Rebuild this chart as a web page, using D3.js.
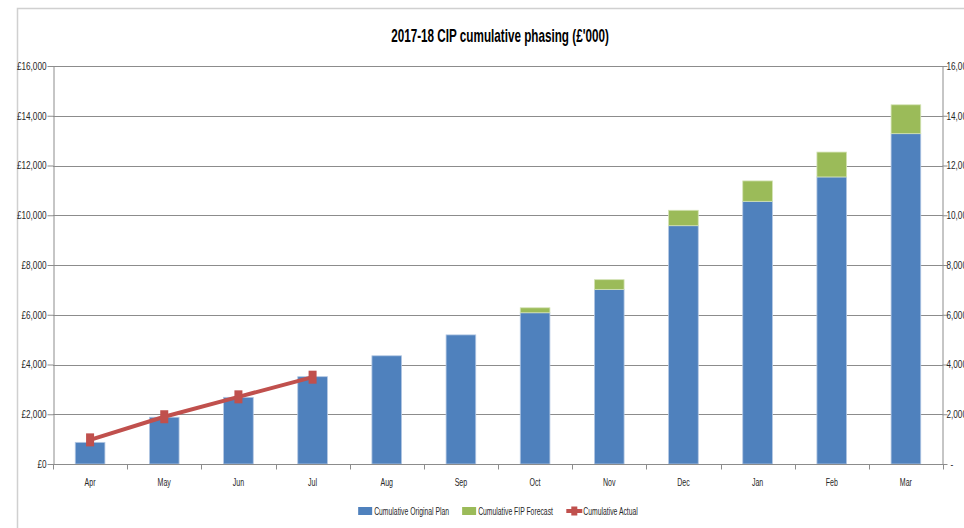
<!DOCTYPE html>
<html>
<head>
<meta charset="utf-8">
<script src="https://cdn.jsdelivr.net/npm/d3@7/dist/d3.min.js"></script>
<style>
  html, body { margin: 0; padding: 0; background: #fff; }
  svg { display: block; }
  text { font-family: "Liberation Sans", Arial, sans-serif; }
</style>
</head>
<body>
<svg id="chart" width="964" height="528"></svg>
<script>
// Months of the 2017-18 financial year
const months = ["Apr", "May", "Jun", "Jul", "Aug", "Sep", "Oct", "Nov", "Dec", "Jan", "Feb", "Mar"];
// Cumulative original plan (£'000)
const originalPlan = [870, 1880, 2680, 3510, 4350, 5190, 6080, 7020, 9580, 10560, 11540, 13280];
// Additional forecast on top of the plan (£'000)
const fipForecast = [0, 0, 0, 0, 0, 0, 200, 390, 620, 820, 1000, 1160];
// Cumulative actual spend to date (£'000)
const actualMonths = ["Apr", "May", "Jun", "Jul"];
const cumulativeActual = [970, 1900, 2700, 3490];
// Axis ticks
const yTicks = [0, 2000, 4000, 6000, 8000, 10000, 12000, 14000, 16000];
const seriesNames = ["Cumulative Original Plan", "Cumulative FIP Forecast", "Cumulative Actual"];

const colors = { plan: "#4f81bd", forecast: "#9bbb59", actual: "#c0504d" };

const svg = d3.select("#chart");
const W = 964, H = 528;
const plot = { left: 53, right: 943, top: 66, bottom: 464 };

// Condense a text run horizontally (narrow chart font look)
function squeeze(sel, k) {
  sel.each(function () {
    const el = d3.select(this);
    const x0 = +el.attr("x") || 0;
    el.attr("x", x0 / k).attr("transform", `scale(${k},1)`);
  });
}

// Chart frame
svg.append("path")
  .attr("d", `M17.5,${H + 2} V8.5 H${W + 2}`)
  .attr("fill", "none")
  .attr("stroke", "#d0d0d0")
  .attr("stroke-width", 1.5);

// Title
svg.append("text")
  .attr("x", 500).attr("y", 42)
  .attr("text-anchor", "middle")
  .attr("font-size", 18).attr("font-weight", "bold")
  .attr("fill", "#000")
  .text("2017-18 CIP cumulative phasing (£'000)")
  .call(squeeze, 0.65);

const x = d3.scaleBand()
  .domain(months)
  .range([plot.left, plot.right])
  .paddingInner(0.6)
  .paddingOuter(0.3);

const y = d3.scaleLinear()
  .domain([0, 16000])
  .range([plot.bottom, plot.top]);

// Gridlines
svg.append("g")
  .selectAll("line")
  .data(yTicks.filter(d => d > 0))
  .join("line")
  .attr("x1", plot.left).attr("x2", plot.right)
  .attr("y1", d => Math.round(y(d)) + 0.5).attr("y2", d => Math.round(y(d)) + 0.5)
  .attr("stroke", "#8c8c8c").attr("stroke-width", 1);

// Left axis (£)
const leftAxis = svg.append("g")
  .attr("transform", `translate(${plot.left + 0.5},0)`)
  .call(d3.axisLeft(y).tickValues(yTicks).tickSize(6).tickSizeOuter(0)
    .tickFormat(d => "£" + d3.format(",")(d)));
leftAxis.select(".domain").attr("stroke", "#8c8c8c");
leftAxis.selectAll(".tick line").attr("stroke", "#8c8c8c");
leftAxis.selectAll(".tick text")
  .attr("font-size", 10.5).attr("fill", "#262626").attr("x", -7)
  .attr("font-family", "'Liberation Sans', sans-serif")
  .call(squeeze, 0.78);

// Right axis
const rightAxis = svg.append("g")
  .attr("transform", `translate(${plot.right - 0.5},0)`)
  .call(d3.axisRight(y).tickValues(yTicks).tickSize(5).tickSizeOuter(0)
    .tickFormat(d => d === 0 ? "-" : d3.format(",")(d)));
rightAxis.select(".domain").attr("stroke", "#8c8c8c");
rightAxis.selectAll(".tick line").attr("stroke", "#8c8c8c");
rightAxis.selectAll(".tick text")
  .attr("font-size", 10.5).attr("fill", "#262626").attr("x", d => d === 0 ? 8 : 4)
  .attr("font-family", "'Liberation Sans', sans-serif")
  .call(squeeze, 0.78);

// Bars: plan, with forecast stacked on top
const barG = svg.append("g");
barG.selectAll("rect.plan")
  .data(months)
  .join("rect")
  .attr("class", "plan")
  .attr("x", d => x(d))
  .attr("width", x.bandwidth())
  .attr("y", (d, i) => y(originalPlan[i]))
  .attr("height", (d, i) => y(0) - y(originalPlan[i]))
  .attr("fill", colors.plan)
  .attr("stroke", "#b3c7e3").attr("stroke-width", 0.8);

barG.selectAll("rect.forecast")
  .data(months.filter((d, i) => fipForecast[i] > 0))
  .join("rect")
  .attr("class", "forecast")
  .attr("x", d => x(d))
  .attr("width", x.bandwidth())
  .attr("y", d => { const i = months.indexOf(d); return y(originalPlan[i] + fipForecast[i]); })
  .attr("height", d => { const i = months.indexOf(d); return y(originalPlan[i]) - y(originalPlan[i] + fipForecast[i]); })
  .attr("fill", colors.forecast)
  .attr("stroke", "#d4e3b5").attr("stroke-width", 0.8);

// Category axis along the baseline with ticks between months
const bottomY = Math.round(y(0)) + 0.5;
svg.append("line")
  .attr("x1", plot.left).attr("x2", plot.right + 2)
  .attr("y1", bottomY).attr("y2", bottomY)
  .attr("stroke", "#8c8c8c").attr("stroke-width", 1.2);
const step = x.step();
svg.append("g")
  .selectAll("line")
  .data(d3.range(months.length + 1))
  .join("line")
  .attr("x1", i => Math.round(plot.left + i * step) + 0.5)
  .attr("x2", i => Math.round(plot.left + i * step) + 0.5)
  .attr("y1", bottomY).attr("y2", bottomY + 5)
  .attr("stroke", "#8c8c8c");
svg.append("g")
  .selectAll("text")
  .data(months)
  .join("text")
  .attr("x", d => x(d) + x.bandwidth() / 2)
  .attr("y", 486)
  .attr("text-anchor", "middle")
  .attr("font-size", 11).attr("fill", "#262626")
  .text(d => d)
  .call(squeeze, 0.64);

// Cumulative actual line with square markers
const cx = d => x(d) + x.bandwidth() / 2;
const actualPts = actualMonths.map((m, i) => [cx(m), y(cumulativeActual[i])]);
svg.append("path")
  .attr("d", d3.line()(actualPts))
  .attr("fill", "none")
  .attr("stroke", colors.actual)
  .attr("stroke-width", 4)
  .attr("stroke-linejoin", "round");
svg.append("g")
  .selectAll("rect")
  .data(actualPts)
  .join("rect")
  .attr("x", d => d[0] - 4).attr("y", d => d[1] - 6.5)
  .attr("width", 8).attr("height", 13)
  .attr("fill", colors.actual);

// Legend
const legend = svg.append("g");
const legendY = 511;
const items = legend.selectAll("g")
  .data(seriesNames)
  .join("g");
items.each(function (name, i) {
  const g = d3.select(this);
  if (i < 2) {
    g.append("rect")
      .attr("x", 0).attr("y", legendY - 4)
      .attr("width", 14).attr("height", 8)
      .attr("fill", i === 0 ? colors.plan : colors.forecast);
  } else {
    g.append("line")
      .attr("x1", 0).attr("x2", 16)
      .attr("y1", legendY).attr("y2", legendY)
      .attr("stroke", colors.actual).attr("stroke-width", 4);
    g.append("rect")
      .attr("x", 5).attr("y", legendY - 4.5)
      .attr("width", 6).attr("height", 9)
      .attr("fill", colors.actual);
  }
  g.append("text")
    .attr("x", i < 2 ? 16 : 17)
    .attr("y", legendY + 4)
    .attr("font-size", 11).attr("fill", "#262626")
    .text(name)
    .call(squeeze, 0.62);
});
// Place legend entries side by side, centred under the plot
let offset = 0;
const widths = [];
items.each(function () { widths.push(this.getBBox().width); });
const gap = 13;
const total = d3.sum(widths) + gap * (widths.length - 1);
const start = (plot.left + plot.right) / 2 - total / 2;
items.attr("transform", (d, i) => {
  const t = `translate(${start + offset},0)`;
  offset += widths[i] + gap;
  return t;
});
</script>
</body>
</html>
